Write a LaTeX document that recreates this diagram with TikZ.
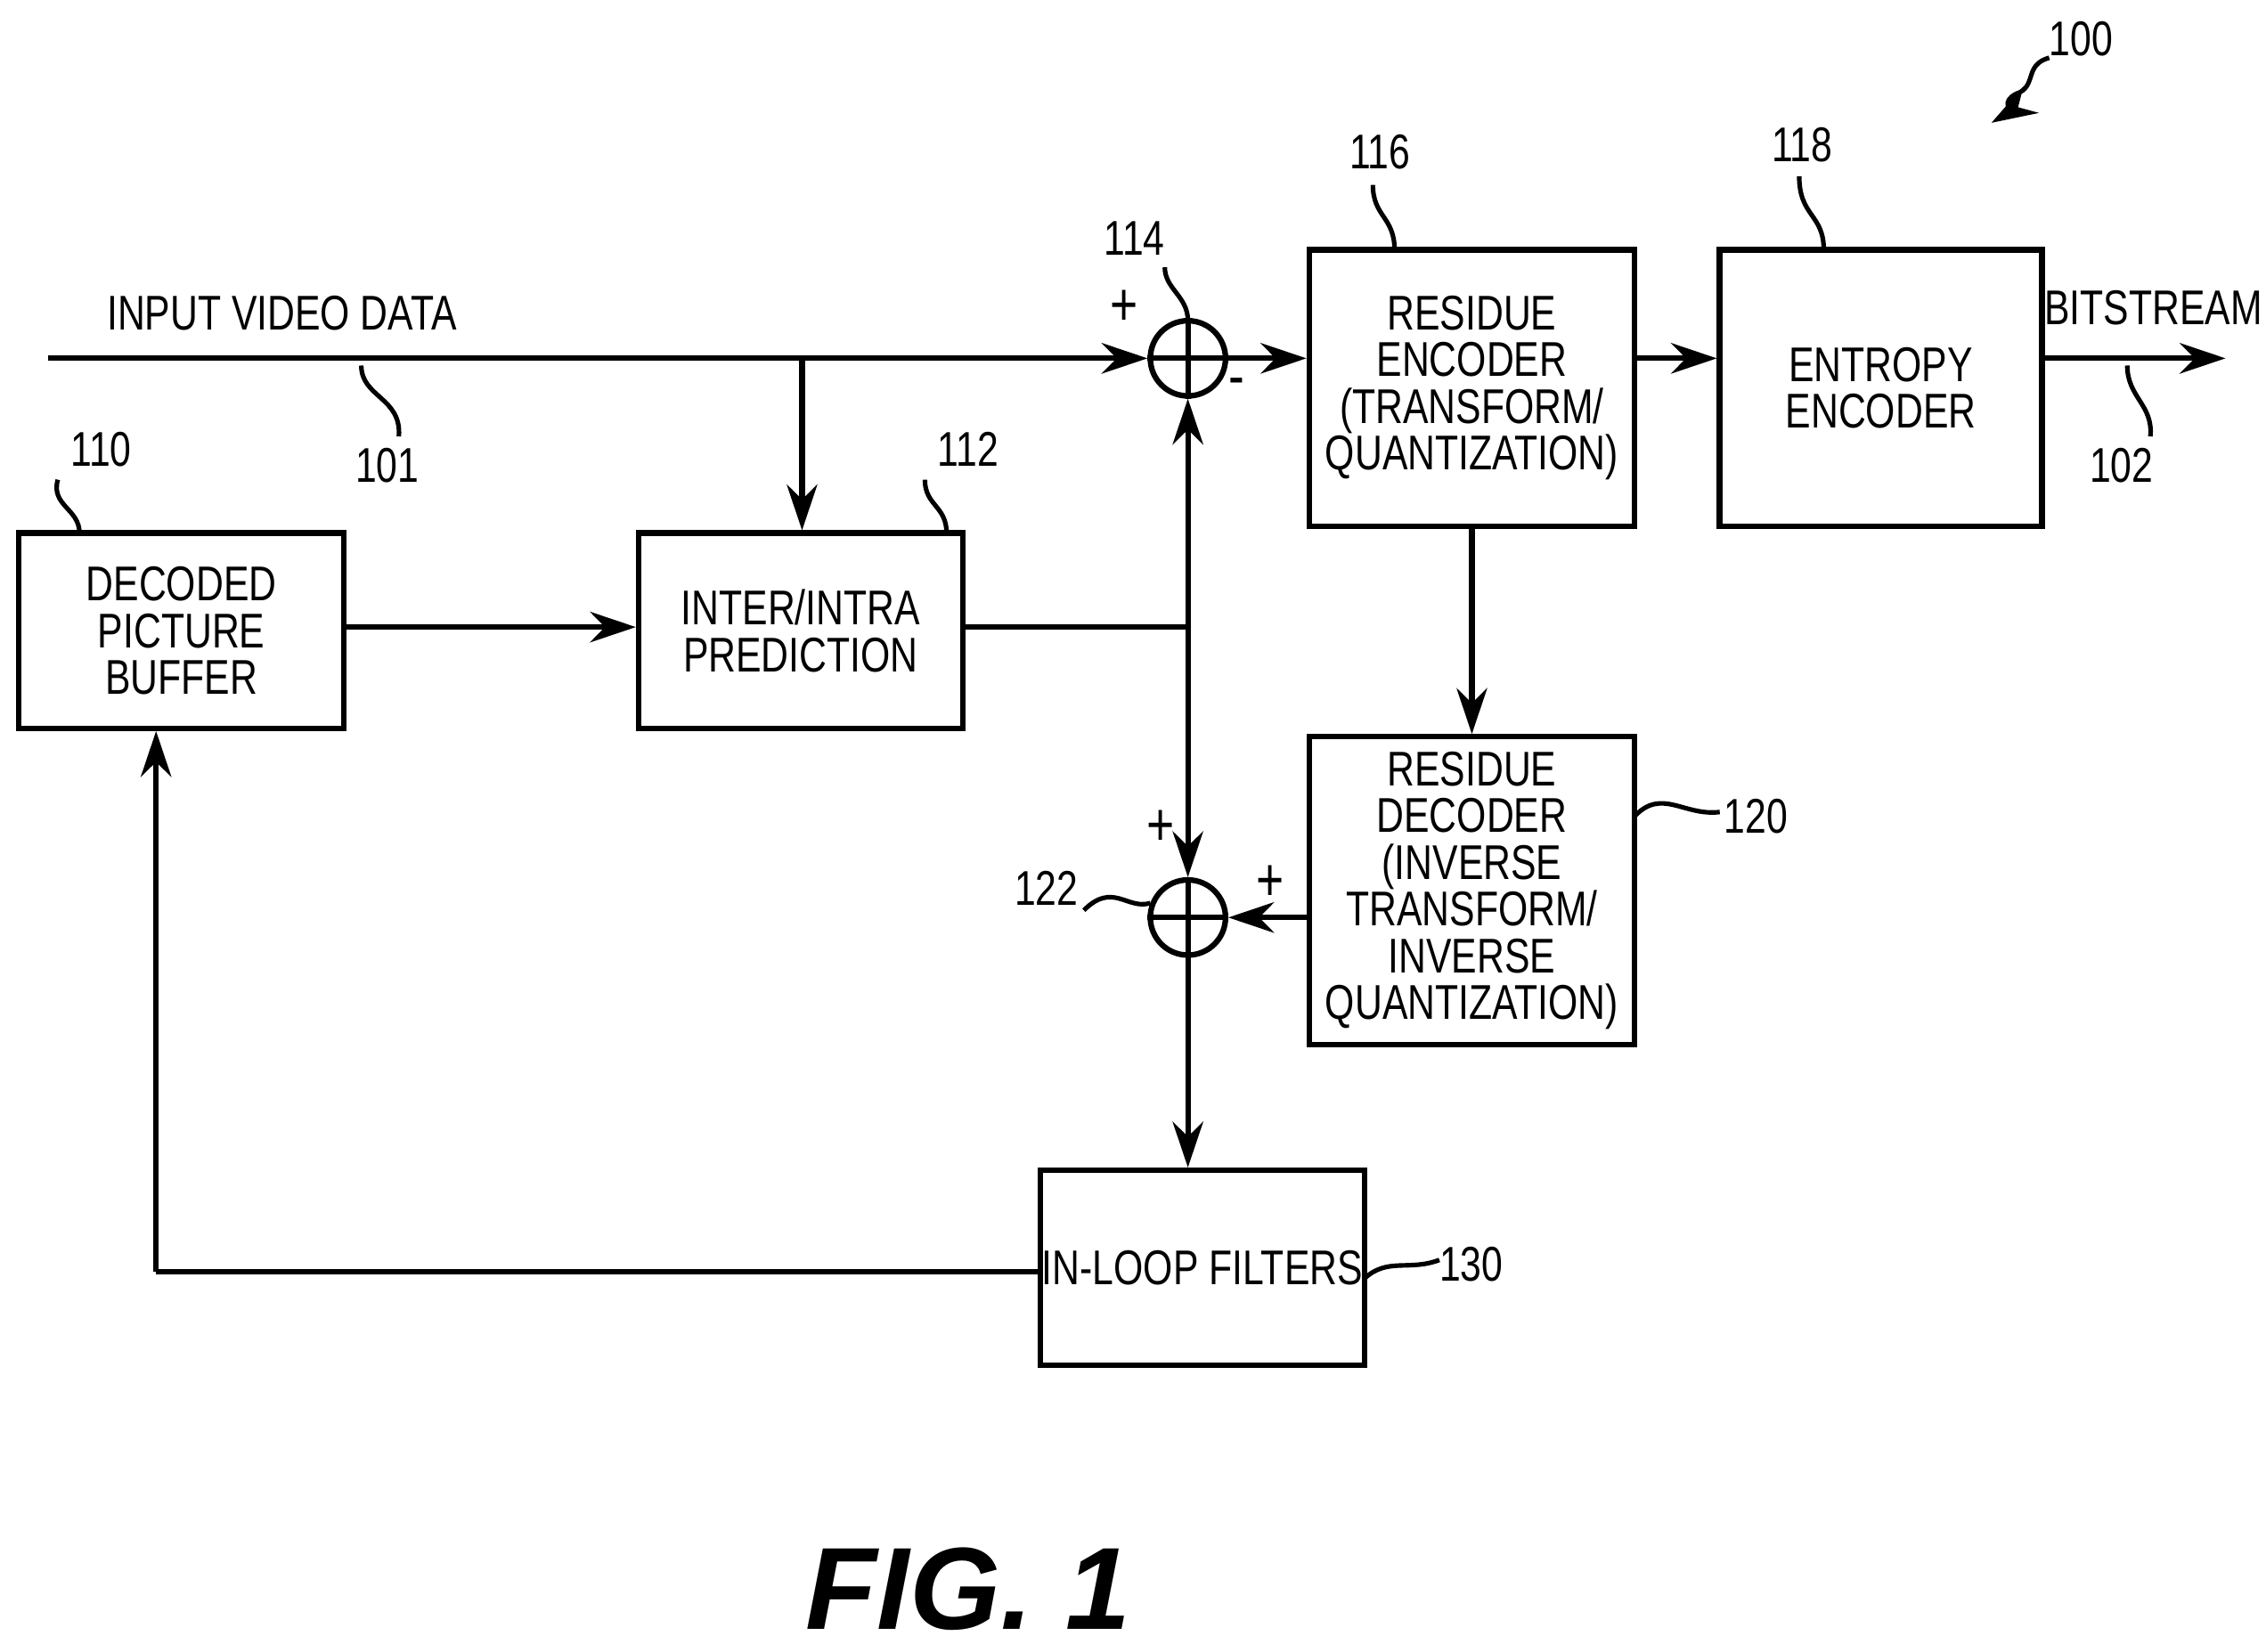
\documentclass[tikz,border=0pt]{standalone}
\usepackage{fontspec}
\setmainfont[FakeStretch=0.78]{Liberation Sans}
\newfontfamily\figfont{Liberation Sans}
\usetikzlibrary{arrows.meta}
\begin{document}
\begin{tikzpicture}[x=0.01cm,y=-0.01cm,
  box/.style={draw,line width=1.1pt,inner sep=0pt,align=center,font=\fontsize{9.6}{9.2}\selectfont},
  lbl/.style={font=\fontsize{9.6}{11}\selectfont},
  sum/.style={draw,line width=1.1pt,circle,minimum size=0.52cm,inner sep=0pt},
  ln/.style={line width=1.1pt},
  arr/.style={line width=1.1pt,-{Stealth[length=9pt,width=6pt]}},
  sq/.style={line width=0.9pt}]
\useasboundingbox (0,0) rectangle (1568,1143);
% boxes
\node[box,minimum width=2.25cm,minimum height=1.35cm] (dpb) at (125.5,436.5) {DECODED\\PICTURE\\BUFFER};
\node[box,minimum width=2.24cm,minimum height=1.35cm] (pred) at (554,436.5) {INTER/INTRA\\PREDICTION};
\node[box,minimum width=2.25cm,minimum height=1.91cm] (renc) at (1018.5,268.5) {RESIDUE\\ENCODER\\(TRANSFORM/\\QUANTIZATION)};
\node[box,minimum width=2.23cm,minimum height=1.91cm] (ent) at (1301.5,268.5) {ENTROPY\\ENCODER};
\node[box,minimum width=2.25cm,minimum height=2.13cm] (rdec) at (1018.5,616.5) {RESIDUE\\DECODER\\(INVERSE\\TRANSFORM/\\INVERSE\\QUANTIZATION)};
\node[box,minimum width=2.24cm,minimum height=1.35cm] (ilf) at (832,877.5) {IN-LOOP FILTERS};
\node[sum] (s1) at (822,248) {};
\node[sum] (s2) at (822,635) {};
\foreach \s in {s1,s2}{\draw[ln] (\s.north)--(\s.south) (\s.west)--(\s.east);}
% connectors
\coordinate (in) at (33,248);
\coordinate (br) at (555,248);
\coordinate (j) at (822,434);
\coordinate (out) at (1540,248);
\coordinate (fb) at (108,880);
\draw[arr] (in) -- (s1.west);
\draw[arr] (br) -- (pred.north -| br);
\draw[arr] (s1.east) -- (renc.west |- s1);
\draw[arr] (renc.east |- s1) -- (ent.west |- s1);
\draw[arr] (ent.east |- out) -- (out);
\draw[arr] (dpb.east |- 0,434) -- (pred.west |- 0,434);
\draw[ln] (pred.east |- j) -- (j);
\draw[arr] (j) -- (s1.south);
\draw[arr] (j) -- (s2.north);
\draw[arr] (renc.south) -- (rdec.north);
\draw[arr] (rdec.west |- s2) -- (s2.east);
\draw[arr] (s2.south) -- (ilf.north -| s2);
\draw[ln] (ilf.west |- fb) -- (fb);
\draw[arr] (fb) -- (dpb.south -| fb);
% texts
\node[lbl] at (195,217) {INPUT VIDEO DATA};
\node[lbl] at (1490,213) {BITSTREAM};
\node[lbl,font=\fontsize{12}{12}\selectfont] at (778,213) {+};
\node[lbl,font=\fontsize{12}{12}\selectfont] at (856,268) {-};
\node[lbl,font=\fontsize{12}{12}\selectfont] at (803,573) {+};
\node[lbl,font=\fontsize{12}{12}\selectfont] at (879,611) {+};
\node[lbl] at (1440,27) {100};
\node[lbl] at (785,165) {114};
\node[lbl] at (955,105) {116};
\node[lbl] at (1247,100) {118};
\node[lbl] at (70,311) {110};
\node[lbl] at (670,311) {112};
\node[lbl] at (268,322) {101};
\node[lbl] at (1468,322) {102};
\node[lbl] at (1215,565) {120};
\node[lbl] at (724,615) {122};
\node[lbl] at (1018,875) {130};
\node[font=\figfont\bfseries\itshape\fontsize{23}{23}\selectfont] at (670,1100) {FIG. 1};
% squiggles
\draw[sq] (806,185) .. controls (806,200) and (822,205) .. (822,222);
\draw[sq] (950,128) .. controls (950,150) and (965,150) .. (965,173);
\draw[sq] (1245,122) .. controls (1245,150) and (1262,148) .. (1262,173);
\draw[sq] (40,332) .. controls (35,350) and (55,352) .. (55,369);
\draw[sq] (640,332) .. controls (640,350) and (655,350) .. (655,369);
\draw[sq] (250,253) .. controls (250,275) and (278,275) .. (276,302);
\draw[sq] (1472,253) .. controls (1472,275) and (1490,280) .. (1488,302);
\draw[sq] (1131,565) .. controls (1150,545) and (1165,565) .. (1190,562);
\draw[sq] (750,630) .. controls (770,610) and (780,630) .. (796,625);
\draw[sq] (944,885) .. controls (960,870) and (975,880) .. (996,872);
\draw[sq,-{Stealth[length=9pt,width=6pt]}] (1418,40) .. controls (1400,45) and (1410,60) .. (1395,65) .. controls (1385,70) and (1390,78) .. (1378,85);
\end{tikzpicture}
\end{document}
